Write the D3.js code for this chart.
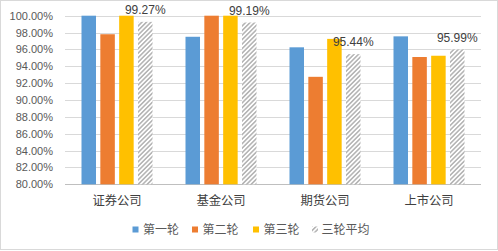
<!DOCTYPE html>
<html><head><meta charset="utf-8">
<script src="https://cdn.jsdelivr.net/npm/d3@7"></script>
<style>
html,body{margin:0;padding:0;background:#fff;}
svg{display:block;font-family:"Liberation Sans","Noto Sans CJK SC",sans-serif;}
</style></head>
<body><svg id="c" width="498" height="251"></svg>
<script>
const categories = ["证券公司","基金公司","期货公司","上市公司"];
const seriesNames = ["第一轮","第二轮","第三轮","三轮平均"];
const round1 = [100.0, 97.5, 96.25, 97.55];
const round2 = [97.8, 100.0, 92.75, 95.1];
const round3 = [100.0, 100.0, 97.25, 95.25];
const average = [99.27, 99.19, 95.44, 95.99];
const avgLabels = ["99.27%","99.19%","95.44%","95.99%"];
const yTicks = [80,82,84,86,88,90,92,94,96,98,100];

const seriesValues = [round1, round2, round3, average];
const colors = ["#5B9BD5","#ED7D31","#FFC000","url(#hatch)"];

const svg = d3.select("#c");
svg.append("rect").attr("x",0.5).attr("y",0.5).attr("width",497).attr("height",249)
  .attr("fill","#fff").attr("stroke","#d9d9d9");

const defs = svg.append("defs");
const pat = defs.append("pattern").attr("id","hatch").attr("patternUnits","userSpaceOnUse")
  .attr("width",3.2).attr("height",3.2).attr("patternTransform","rotate(45)");
pat.append("rect").attr("width",3.2).attr("height",3.2).attr("fill","#fff");
pat.append("line").attr("x1",0.8).attr("y1",0).attr("x2",0.8).attr("y2",3.2)
  .attr("stroke","#a5a5a5").attr("stroke-width",1.3);

const x0 = d3.scaleBand().domain(categories).range([65,481]).padding(0);
const groupW = 71;
const x1 = d3.scaleBand().domain(d3.range(4)).range([0,groupW]).paddingInner(0.23).paddingOuter(0);
const y = d3.scaleLinear().domain([80,100]).range([184.3,15.7]);

// gridlines
svg.append("g").selectAll("line").data(yTicks).join("line")
  .attr("x1",65).attr("x2",481)
  .attr("y1",d=>Math.round(y(d))+0.5).attr("y2",d=>Math.round(y(d))+0.5)
  .attr("stroke",d=>d===80?"#bfbfbf":"#d9d9d9").attr("stroke-width",1);

// y axis labels
const yAxis = d3.axisLeft(y).tickValues(yTicks).tickSize(0).tickPadding(0)
  .tickFormat(d=>d.toFixed(2)+"%");
const gy = svg.append("g").attr("transform","translate(53,0)").call(yAxis);
gy.select(".domain").remove();
gy.selectAll("text").attr("font-size",11).attr("fill","#595959")
  .attr("font-family","Liberation Sans, sans-serif");

// bars
const groups = svg.append("g").selectAll("g").data(categories).join("g")
  .attr("transform",c=>`translate(${x0(c)+(x0.bandwidth()-groupW)/2},0)`);
groups.each(function(c,ci){
  const g = d3.select(this);
  seriesValues.forEach((vals,si)=>{
    const v = Math.min(vals[ci],100);
    g.append("rect").attr("x",x1(si)).attr("width",x1.bandwidth())
      .attr("y",y(v)).attr("height",y(80)-y(v)).attr("fill",colors[si]);
  });
  g.append("text").attr("x",x1(3)+x1.bandwidth()/2).attr("y",y(average[ci])-8)
    .attr("text-anchor","middle").attr("font-size",12).attr("fill","#404040")
    .text(avgLabels[ci]);
});

// category axis
const xAxis = d3.axisBottom(x0).tickSize(0).tickPadding(0);
const gx = svg.append("g").attr("transform","translate(0,201)").call(xAxis);
gx.select(".domain").remove();
gx.selectAll("text").attr("font-size",12.3).attr("fill","#404040")
  .attr("font-family","Noto Sans CJK SC, sans-serif").attr("dy","0.35em");

// legend
const legX = [132.5,192,253,312];
const leg = svg.append("g").selectAll("g").data(seriesNames).join("g")
  .attr("transform",(d,i)=>`translate(${legX[i]},229.5)`);
leg.append("rect").attr("x",0).attr("y",-3).attr("width",6).attr("height",6)
  .attr("fill",(d,i)=>colors[i]);
leg.append("text").attr("x",(d,i)=>i===3?9.5:10.5).attr("y",0).attr("dy","0.35em")
  .attr("font-size",12).attr("fill","#595959")
  .attr("font-family","Noto Sans CJK SC, sans-serif").text(d=>d);
</script></body></html>
